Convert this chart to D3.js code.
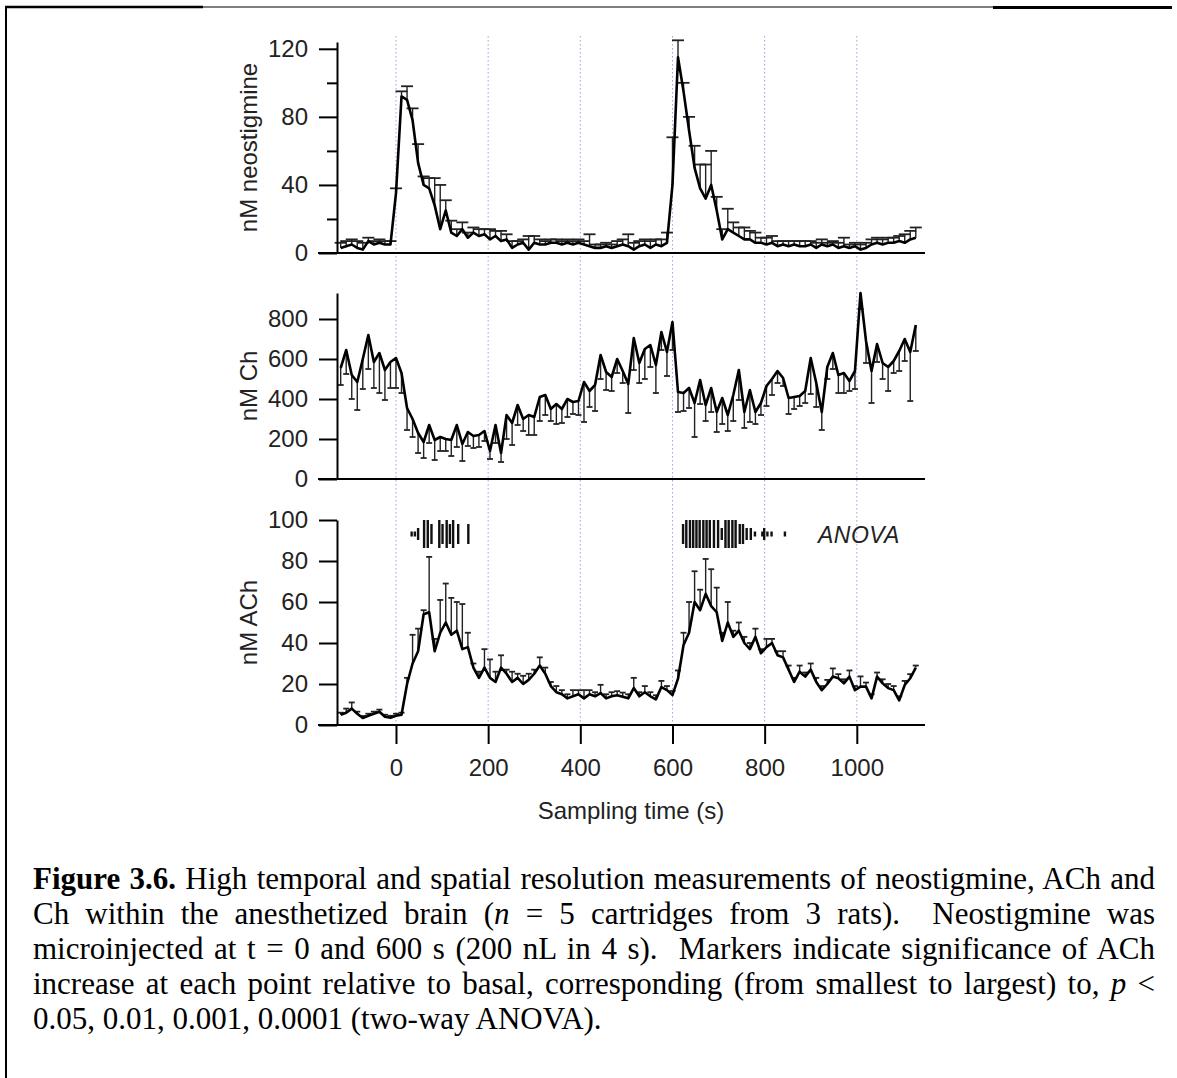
<!DOCTYPE html>
<html>
<head>
<meta charset="utf-8">
<script src="https://cdn.jsdelivr.net/npm/d3@7/dist/d3.min.js"></script>
<style>
body { margin: 0; background: #fff; }
#wrap { position: relative; width: 1177px; height: 1078px; overflow: hidden; background: #fff; }
svg { position: absolute; left: 0; top: 0; }
#caption { position: absolute; left: 33px; top: 861px; width: 1122px;
  font-family: "Liberation Serif", "Times New Roman", serif; font-size: 31px;
  line-height: 35px; color: #000; }
#caption div { text-align: justify; text-align-last: justify; }
#caption div.last { text-align: left; text-align-last: left; }
</style>
</head>
<body>
<div id="wrap"><div id="caption"></div></div>
<script>

// sampling times (s)
var times = [
  -120,-108,-96,-84,-72,-60,-48,-36,-24,-12,
  0,12,24,36,48,60,72,84,96,108,
  120,132,144,156,168,180,192,204,216,228,
  240,252,264,276,288,300,312,324,336,348,
  360,372,384,396,408,420,432,444,456,468,
  480,492,504,516,528,540,552,564,576,588,
  600,612,624,636,648,660,672,684,696,708,
  720,732,744,756,768,780,792,804,816,828,
  840,852,864,876,888,900,912,924,936,948,
  960,972,984,996,1008,1020,1032,1044,1056,1068,
  1080,1092,1104,1116,1128
];

// nM neostigmine (mean, upper error)
var neoMean = [
  3,4,5,3,2,7,5,6,5,5,
  35,92,90,78,53,40,38,28,14,25,
  12,10,14,9,12,10,11,8,10,7,
  8,3,5,6,2,6,5,5,6,6,
  5,6,5,6,5,4,3,3,4,3,
  4,5,4,2,4,5,3,5,4,6,
  40,115,95,72,50,38,32,40,25,8,
  14,12,10,8,8,6,6,5,6,4,
  5,4,5,4,4,5,3,5,4,5,
  3,4,3,4,2,3,5,6,5,6,
  6,7,6,8,9
];
var neoErr = [
  3,3,3,4,4,2,2,2,2,2,
  3,3,8,7,11,5,6,16,26,6,
  7,4,4,3,3,4,3,6,3,6,
  3,4,2,2,8,4,3,2,2,2,
  2,2,2,2,2,7,2,2,2,2,
  3,3,7,4,3,3,4,3,4,6,
  28,10,5,8,13,14,20,20,8,6,
  12,6,5,7,5,6,3,4,4,3,
  2,3,2,3,3,2,3,3,2,2,
  3,5,2,2,3,3,3,3,3,3,
  3,3,5,5,6
];

// nM Ch (mean, lower error)
var chMean = [
  555,645,520,485,600,720,585,630,545,585,
  605,530,355,300,230,185,270,195,210,200,
  195,270,175,235,215,220,240,140,270,130,
  320,280,370,300,320,310,410,420,350,375,
  350,400,385,390,485,440,470,620,535,510,
  600,540,475,705,580,650,670,570,735,635,
  785,435,430,455,380,495,370,455,335,405,
  320,420,545,335,445,335,380,465,500,540,
  505,405,410,415,440,605,480,335,560,630,
  520,530,490,540,930,690,540,675,580,560,
  590,640,700,635,770
];
var chErr = [
  85,120,120,140,150,170,130,200,150,130,
  150,100,110,90,100,80,90,100,70,60,
  80,110,85,70,60,60,50,40,90,45,
  120,110,100,60,100,90,120,100,60,100,
  70,90,60,70,200,80,130,120,90,70,
  70,60,145,160,100,150,110,140,90,120,
  140,100,90,100,170,120,80,120,100,130,
  80,130,150,80,160,60,60,100,80,60,
  40,80,60,50,60,180,120,90,60,80,
  90,100,50,90,80,110,160,90,80,120,
  60,100,110,245,130
];

// nM ACh (mean, upper error)
var achMean = [
  5,6,8,5.5,3.4,4.5,5.5,6.5,4,3.5,
  4.5,5,20,30,36,54,55,36,45,50,
  44,46,37,38,28,23,28,23,21,28,
  25,21,23,20,22,25,29,25,19,16,
  15,13,14,15,13,15,14,15.6,13,14,
  14.5,13.8,13,18,14,16,14,12.5,18.5,17,
  14.6,22.6,39,45,60,56,64,58,55,41,
  50,43,46,40,37,43,35,38,40,34,
  33,27,21,26,23.6,27,21,17,20,23.6,
  22.8,20.3,23.6,17,18.7,18.7,13,23.6,20.3,18,
  17,12,19.5,22.8,28
];
var achErr = [
  1,2,3,1,1,1,1,1,1,1,
  1,1,3,14,11,2,27,6,16,19,
  18,14,22,7,2,3,9,9,5,6,
  2,5,2,4,3,2,4,3,2,3,
  2,2,3,2,4,2,2,4,2,2,
  2,2,2,5,2,3,2,2,3,2,
  2,4,6,15,15,10,17,18,12,4,
  10,3,4,3,3,4,2,4,2,2,
  3,2,2,3,2,3,2,2,2,4,
  2,2,3,2,5,2,2,2,2,2,
  2,2,2,2,1
];

// ANOVA significance markers (1: p<0.05 ... 4: p<0.0001)
var anovaTimes = [34,41,48,61,69,77,94,101,110,117,124,135,157,
  623,630,638,645,652,659,667,674,681,690,699,707,715,722,730,737,
  746,753,761,770,779,795,799,806,815,844];
var anovaLevels = [1,1,2,4,4,3,4,3,4,3,4,3,3,
  3,4,4,4,4,4,4,4,4,4,4,2,4,4,4,4,
  3,3,2,2,1,1,2,1,1,1];

var xTicks = [0,200,400,600,800,1000];
var injectGrid = [0,200,400,600,800,1000];

var captionLines = [
  '<b>Figure 3.6.</b> High temporal and spatial resolution measurements of neostigmine, ACh and',
  'Ch within the anesthetized brain (<i>n</i> = 5 cartridges from 3 rats).&nbsp; Neostigmine was',
  'microinjected at t = 0 and 600 s (200 nL in 4 s).&nbsp; Markers indicate significance of ACh',
  'increase at each point relative to basal, corresponding (from smallest to largest) to, <i>p</i> &lt;',
  '0.05, 0.01, 0.001, 0.0001 (two-way ANOVA).'
];

var W = 1177, H = 1078;
var FONT = '"Liberation Sans", Arial, Helvetica, sans-serif';

var svg = d3.select('#wrap').append('svg').attr('width', W).attr('height', H);

// page frame
svg.append('line').attr('x1', 5).attr('x2', 1172).attr('y1', 7).attr('y2', 7)
   .attr('stroke', '#000').attr('stroke-width', 1.2);
svg.append('line').attr('x1', 5).attr('x2', 203).attr('y1', 7).attr('y2', 7)
   .attr('stroke', '#000').attr('stroke-width', 2.5);
svg.append('line').attr('x1', 993).attr('x2', 1172).attr('y1', 7.5).attr('y2', 7.5)
   .attr('stroke', '#000').attr('stroke-width', 3);
svg.append('line').attr('x1', 6).attr('x2', 6).attr('y1', 6).attr('y2', H)
   .attr('stroke', '#000').attr('stroke-width', 2);

var x = d3.scaleLinear().domain([-128, 1148]).range([337, 925]);

var panels = [
  { mean: neoMean, err: neoErr, dir: 1, top: 42, base: 253, max: 124,
    ticks: [0,40,80,120], minor: [20,60,100], label: 'nM neostigmine', cap: 12 },
  { mean: chMean, err: chErr, dir: -1, top: 293, base: 479, max: 930,
    ticks: [0,200,400,600,800], minor: [], label: 'nM Ch', cap: 6 },
  { mean: achMean, err: achErr, dir: 1, top: 520, base: 725, max: 100,
    ticks: [0,20,40,60,80,100], minor: [], label: 'nM ACh', cap: 6 }
];

// dotted time grid
svg.append('g').selectAll('line').data(injectGrid).join('line')
   .attr('x1', d => x(d)).attr('x2', d => x(d))
   .attr('y1', 36).attr('y2', 725)
   .attr('stroke', '#a0a0dc').attr('stroke-width', 1)
   .attr('stroke-dasharray', '1.5,2.5');

panels.forEach(function(p){

  var y = d3.scaleLinear().domain([0, p.max]).range([p.base, p.top]);
  var g = svg.append('g');

  var pts = times.map(function(t, i){ return { t: t, m: p.mean[i], e: p.err[i] }; });

  // error bars
  var eb = g.append('g').attr('stroke', '#222').attr('stroke-width', 1.4);
  eb.selectAll('line.v').data(pts).join('line').attr('class', 'v')
    .attr('x1', d => x(d.t)).attr('x2', d => x(d.t))
    .attr('y1', d => y(d.m)).attr('y2', d => y(d.m + p.dir * d.e));
  eb.selectAll('line.c').data(pts).join('line').attr('class', 'c')
    .attr('x1', d => x(d.t) - p.cap / 2).attr('x2', d => x(d.t) + p.cap / 2)
    .attr('y1', d => y(d.m + p.dir * d.e)).attr('y2', d => y(d.m + p.dir * d.e))
    .attr('stroke-width', 1.8);

  // mean trace
  var line = d3.line().x(d => x(d.t)).y(d => y(d.m));
  g.append('path').datum(pts).attr('d', line)
   .attr('fill', 'none').attr('stroke', '#000').attr('stroke-width', 2.6)
   .attr('stroke-linejoin', 'round');

  // y axis
  var ax = g.append('g').attr('transform', 'translate(337,0)')
    .call(d3.axisLeft(y).tickValues(p.ticks).tickSize(18).tickPadding(11).tickSizeOuter(0));
  ax.selectAll('path, line').attr('stroke', '#000').attr('stroke-width', 2);
  ax.selectAll('text').style('font-family', FONT).style('font-size', '24px').attr('fill', '#222');

  if (p.minor.length) {
    var mx = g.append('g').attr('transform', 'translate(337,0)')
      .call(d3.axisLeft(y).tickValues(p.minor).tickSize(10).tickFormat(''));
    mx.select('.domain').remove();
    mx.selectAll('line').attr('stroke', '#000').attr('stroke-width', 2);
  }

  // baseline
  g.append('line').attr('x1', 318).attr('x2', 925).attr('y1', p.base).attr('y2', p.base)
   .attr('stroke', '#000').attr('stroke-width', 2);

  // y label
  g.append('text')
   .attr('transform', 'translate(249,' + ((p.top + p.base) / 2) + ') rotate(-90)')
   .attr('dy', '0.35em').attr('text-anchor', 'middle')
   .style('font-family', FONT).style('font-size', '24px').attr('fill', '#222')
   .text(p.label);
});

// x axis on bottom panel
var xa = svg.append('g').attr('transform', 'translate(0,725)')
  .call(d3.axisBottom(x).tickValues(xTicks).tickFormat(d3.format('d'))
          .tickSize(19).tickPadding(15));
xa.select('.domain').remove();
xa.selectAll('line').attr('stroke', '#000').attr('stroke-width', 2);
xa.selectAll('text').style('font-family', FONT).style('font-size', '24px').attr('fill', '#222');

svg.append('text').attr('x', 631).attr('y', 819).attr('text-anchor', 'middle')
   .style('font-family', FONT).style('font-size', '24px').attr('fill', '#222')
   .text('Sampling time (s)');

// ANOVA markers
var markH = [0, 5, 12, 20, 28];
svg.append('g').selectAll('rect').data(anovaTimes).join('rect')
   .attr('x', d => x(d) - 1.2).attr('width', 2.4)
   .attr('y', (d, i) => 534 - markH[anovaLevels[i]] / 2)
   .attr('height', (d, i) => markH[anovaLevels[i]])
   .attr('fill', '#111');

svg.append('text').attr('x', 818).attr('y', 543)
   .style('font-family', FONT).style('font-size', '23px').style('font-style', 'italic')
   .style('letter-spacing', '0.5px').attr('fill', '#222')
   .text('ANOVA');

// caption
d3.select('#caption').selectAll('div').data(captionLines).join('div')
  .classed('last', (d, i) => i == captionLines.length - 1)
  .html(d => d);

</script>
</body>
</html>
